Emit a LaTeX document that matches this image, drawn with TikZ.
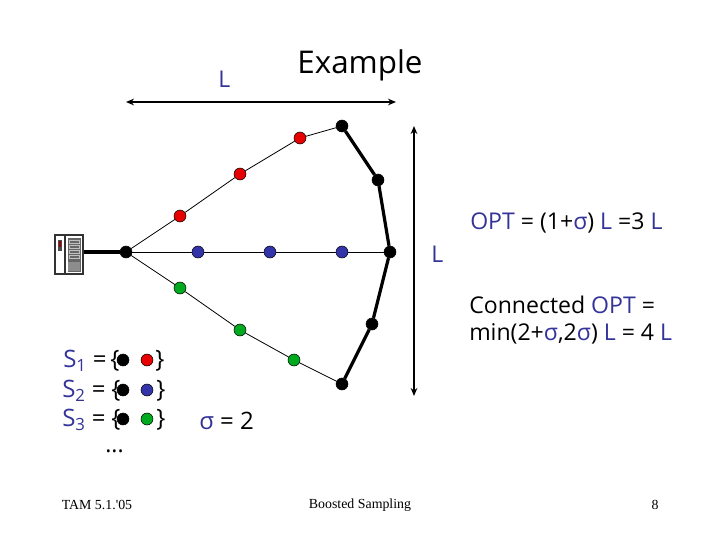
\documentclass[tikz,border=0pt]{standalone}
\usepackage{fontspec}
\setmainfont{Open Sans}
\newfontfamily\foot{Liberation Serif}
\usetikzlibrary{arrows.meta}
\definecolor{navy}{RGB}{51,51,153}
\definecolor{rd}{RGB}{230,0,0}
\definecolor{bl}{RGB}{51,51,170}
\definecolor{gr}{RGB}{0,170,30}
\newcommand{\nv}[1]{\textcolor{navy}{#1}}
\tikzset{
 pt/.style={circle,draw=black,line width=0.4pt,minimum size=9pt,inner sep=0pt},
 blk/.style={pt,fill=black},
 rdot/.style={pt,fill=rd},
 blu/.style={pt,fill=bl},
 grn/.style={pt,fill=gr},
 thinlink/.style={line width=0.6pt},
 thicklink/.style={line width=2.4pt},
 dimline/.style={line width=1.3pt,{Stealth[length=6pt,width=5pt]}-{Stealth[length=6pt,width=5pt]}},
 txt/.style={inner sep=0pt,font=\fontsize{17.3}{20.3}\selectfont,anchor=west,text=black},
 settxt/.style={inner sep=0pt,font=\fontsize{18}{21}\selectfont,anchor=west,text=black},
 ft/.style={inner sep=0pt,font=\foot\fontsize{10.4}{12}\selectfont,text=black}
}
\begin{document}
\begin{tikzpicture}[x=0.75pt,y=-0.75pt]
\useasboundingbox (0,0) rectangle (720,540);
% server icon
\fill[white] (55,235) rectangle (83,274);
\draw[line width=1.3pt,draw=black!80] (55,235) rectangle (83,274);
\draw[line width=1.1pt,draw=black!80] (65,235) -- (65,274);
\fill[black!70] (58,240) rectangle (62,251);
\fill[red!60!black] (59,241) rectangle (61,247);
\fill[black!60] (67.5,237.5) rectangle (80.5,271.5);
\fill[black!45] (68,262) rectangle (80,271);
\foreach \y in {240,245,250,255}{\draw[black!25,line width=0.5pt] (69,\y) rectangle (79,\y+3);}
\coordinate (sv) at (84,252);
% nodes
\node[blk] (r) at (126,252) {};
\node[rdot] (r1) at (180,216) {};
\node[rdot] (r2) at (240,174) {};
\node[rdot] (r3) at (300,138) {};
\node[blu] (b1) at (198,252) {};
\node[blu] (b2) at (270,252) {};
\node[blu] (b3) at (342,252) {};
\node[grn] (g1) at (180,288) {};
\node[grn] (g2) at (240,330) {};
\node[grn] (g3) at (294,360) {};
\node[blk] (k1) at (342,126) {};
\node[blk] (k2) at (378,180) {};
\node[blk] (k3) at (390,252) {};
\node[blk] (k4) at (372,324) {};
\node[blk] (k5) at (342,384) {};
% connectors
\draw[thicklink] (sv) -- (r);
\draw[thinlink] (r) -- (r1) -- (r2) -- (r3) -- (k1);
\draw[thinlink] (r) -- (b1) -- (b2) -- (b3) -- (k3);
\draw[thinlink] (r) -- (g1) -- (g2) -- (g3) -- (k5);
\draw[thicklink] (k1) -- (k2) -- (k3) -- (k4) -- (k5);
\coordinate (hl) at (126,102);
\coordinate (hr) at (396,102);
\coordinate (vt) at (414,126);
\coordinate (vb) at (414,396);
\draw[dimline] (hl) -- (hr);
\draw[dimline] (vt) -- (vb);
% text
\node[inner sep=0pt,font=\fontsize{23.5}{28}\selectfont] (title) at (360,65) {Example};
\node[txt] (l1) at (218,79) {\nv{L}};
\node[txt] (l2) at (431,254) {\nv{L}};
\node[txt] (opt) at (470,223) {\nv{OPT} = (1+\nv{σ}) \nv{L} =3 \nv{L}};
\node[txt,align=left] (conn) at (469,320) {Connected \nv{OPT} =\\min(2+\nv{σ},2\nv{σ}) \nv{L} = 4 \nv{L}};
\node[settxt] (s1) at (63,361) {\nv{S\textsubscript{1}} =};
\node[settxt] (s2) at (62,391) {\nv{S\textsubscript{2}} =};
\node[settxt] (s3) at (62,420) {\nv{S\textsubscript{3}} =};
\node[settxt] (o1) at (110,361) {\{};
\node[settxt] (o2) at (111,391) {\{};
\node[settxt] (o3) at (111,420) {\{};
\node[settxt] (c1) at (155,361) {\}};
\node[settxt] (c2) at (156,391) {\}};
\node[settxt] (c3) at (156,420) {\}};
\node[blk] (a1) at (123,360) {};
\node[rdot] (a2) at (147,360) {};
\node[blk] (b4) at (123,390) {};
\node[blu] (b5) at (147,390) {};
\node[blk] (c4) at (123,419) {};
\node[grn] (c5) at (147,419) {};
\node[settxt] (sig) at (199,421) {\nv{σ} = 2};
\node[txt] (dots) at (105,451) {...};
\node[ft] (f1) at (97,505) {TAM 5.1.'05};
\node[ft] (f2) at (360,505) {Boosted Sampling};
\node[ft] (f3) at (655,505) {8};
\end{tikzpicture}
\end{document}
